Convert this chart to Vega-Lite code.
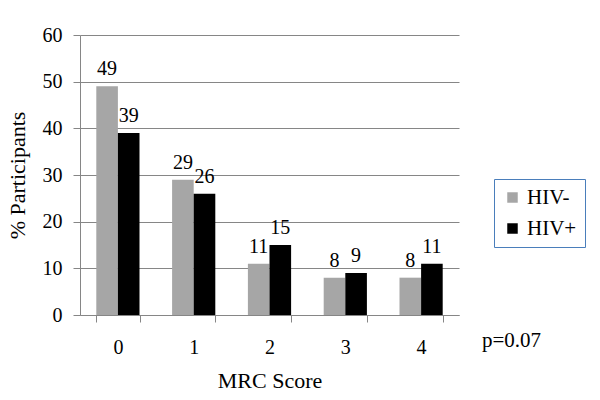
{
  "$schema": "https://vega.github.io/schema/vega-lite/v6.json",
  "width": 379,
  "height": 280,
  "autosize": {"type": "none"},
  "padding": {"left": 80, "top": 35, "right": 141, "bottom": 85},
  "background": "white",
  "config": {
    "view": {"stroke": null},
    "font": "Liberation Serif",
    "axis": {"labelFont": "Liberation Serif", "titleFont": "Liberation Serif", "labelColor": "black", "titleColor": "black", "titleFontWeight": "normal", "domainColor": "#868686", "tickColor": "#868686", "gridColor": "#868686"},
    "legend": {"labelFont": "Liberation Serif"},
    "title": {"font": "Liberation Serif"},
    "text": {"font": "Liberation Serif"}
  },
  "title": {"text": "p=0.07", "orient": "bottom", "anchor": "end", "frame": "group", "align": "left", "baseline": "alphabetic", "offset": 0, "dx": 23, "dy": -44, "fontSize": 21, "fontWeight": "normal", "color": "black"},
  "data": {"values": [
    {"mrc": "0", "group": "HIV-", "pct": 49},
    {"mrc": "0", "group": "HIV+", "pct": 39},
    {"mrc": "1", "group": "HIV-", "pct": 29},
    {"mrc": "1", "group": "HIV+", "pct": 26},
    {"mrc": "2", "group": "HIV-", "pct": 11},
    {"mrc": "2", "group": "HIV+", "pct": 15},
    {"mrc": "3", "group": "HIV-", "pct": 8},
    {"mrc": "3", "group": "HIV+", "pct": 9},
    {"mrc": "4", "group": "HIV-", "pct": 8},
    {"mrc": "4", "group": "HIV+", "pct": 11}
  ]},
  "encoding": {
    "x": {"field": "mrc", "type": "nominal", "title": "MRC Score",
      "scale": {"paddingInner": 0.43, "paddingOuter": 0.215},
      "axis": {"labelAngle": 0, "tickBand": "extent", "tickSize": 7, "labelFontSize": 20, "labelPadding": 15, "titleFontSize": 22, "titleBaseline": "alphabetic", "titleY": 72}},
    "xOffset": {"field": "group", "type": "nominal", "sort": ["HIV-", "HIV+"], "scale": {"paddingInner": 0, "paddingOuter": 0}},
    "y": {"field": "pct", "type": "quantitative", "title": "% Participants",
      "scale": {"domain": [0, 60]},
      "axis": {"values": [0, 10, 20, 30, 40, 50, 60], "grid": true, "tickSize": 7, "labelFontSize": 20, "labelPadding": 11, "titleFontSize": 22, "titleBaseline": "alphabetic", "titleX": -56, "titleY": 140, "titleAlign": "center", "titleAngle": 270}}
  },
  "layer": [
    {"mark": {"type": "bar"},
     "encoding": {"color": {"field": "group", "type": "nominal", "sort": ["HIV-", "HIV+"], "scale": {"domain": ["HIV-", "HIV+"], "range": ["#A6A6A6", "#000000"]},
       "legend": {"title": null, "orient": "none", "legendX": 414, "legendY": 144, "symbolType": "square", "symbolSize": 110, "symbolStrokeWidth": 0, "labelFontSize": 21, "labelColor": "black", "labelOffset": 4, "rowPadding": 9, "padding": 8, "strokeColor": "#4A7EBB", "fillColor": "white"}}}},
    {"mark": {"type": "text", "baseline": "alphabetic", "dy": -11, "fontSize": 20, "color": "black"},
     "encoding": {"text": {"field": "pct", "type": "quantitative"}}}
  ]
}
